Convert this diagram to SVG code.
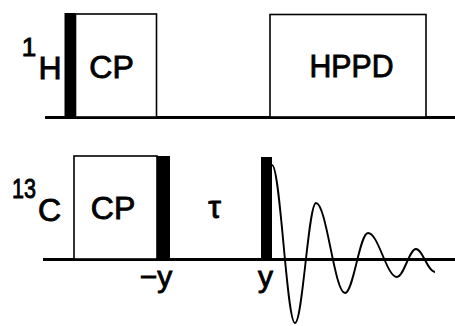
<svg xmlns="http://www.w3.org/2000/svg" width="455" height="326" viewBox="0 0 455 326">
<style>
.base{stroke:#000;stroke-width:3;fill:none}
.box{stroke:#000;stroke-width:1.6;fill:#fff}
.pulse{fill:#000;stroke:none}
.fid{stroke:#000;stroke-width:1.9;fill:none}
text{font-family:"Liberation Sans",Arial,sans-serif;fill:#000;stroke:#000;stroke-width:0.9}
.lbl{font-size:32px}
</style>
<rect width="455" height="326" fill="#fff"/>
<g id="connectors">
<line class="base" x1="45" y1="117.5" x2="455" y2="117.5"/>
<line class="base" x1="43" y1="259.5" x2="455" y2="259.5"/>
</g>
<g id="label-1H">
<text x="29" y="56" font-size="26" text-anchor="middle">1</text>
<text x="50" y="79" class="lbl" text-anchor="middle">H</text>
</g>
<g id="label-13C">
<text x="12" y="198" font-size="27" textLength="24" lengthAdjust="spacingAndGlyphs">13</text>
<text x="49.5" y="221" class="lbl" text-anchor="middle">C</text>
</g>
<g id="H-pulse">
<rect class="pulse" x="64.5" y="13" width="11" height="104"/>
</g>
<g id="H-CP">
<rect class="box" x="75.5" y="14" width="81" height="103"/>
<text x="111.5" y="78" class="lbl" text-anchor="middle">CP</text>
</g>
<g id="H-HPPD">
<rect class="box" x="270" y="14.5" width="156" height="102.5"/>
<text x="351.5" y="77" class="lbl" text-anchor="middle" textLength="84" lengthAdjust="spacingAndGlyphs">HPPD</text>
</g>
<g id="C-CP">
<rect class="box" x="74" y="156" width="83" height="103"/>
<text x="113" y="219" class="lbl" text-anchor="middle">CP</text>
</g>
<g id="C-pulse-minus-y">
<rect class="pulse" x="157" y="156" width="13" height="103"/>
<text x="156" y="287" font-size="30" text-anchor="middle">−y</text>
</g>
<g id="tau">
<text x="214.5" y="218" class="lbl" text-anchor="middle">τ</text>
</g>
<g id="C-pulse-y">
<rect class="pulse" x="261" y="157" width="11" height="102"/>
<text x="265.5" y="287" font-size="30" text-anchor="middle">y</text>
</g>
<g id="FID">
<path class="fid" d="M272,165 C280.4,165 286.6,323 295,323 C302.6,323 308.4,203 316,203 C326.5,203 334.5,293 345,293 C353.4,293 359.6,233 368,233 C378.5,233 386.5,277 397,277 C403.9,277 409.1,249 416,249 C422.5,249 428,272 435,272"/>
</g>
</svg>
